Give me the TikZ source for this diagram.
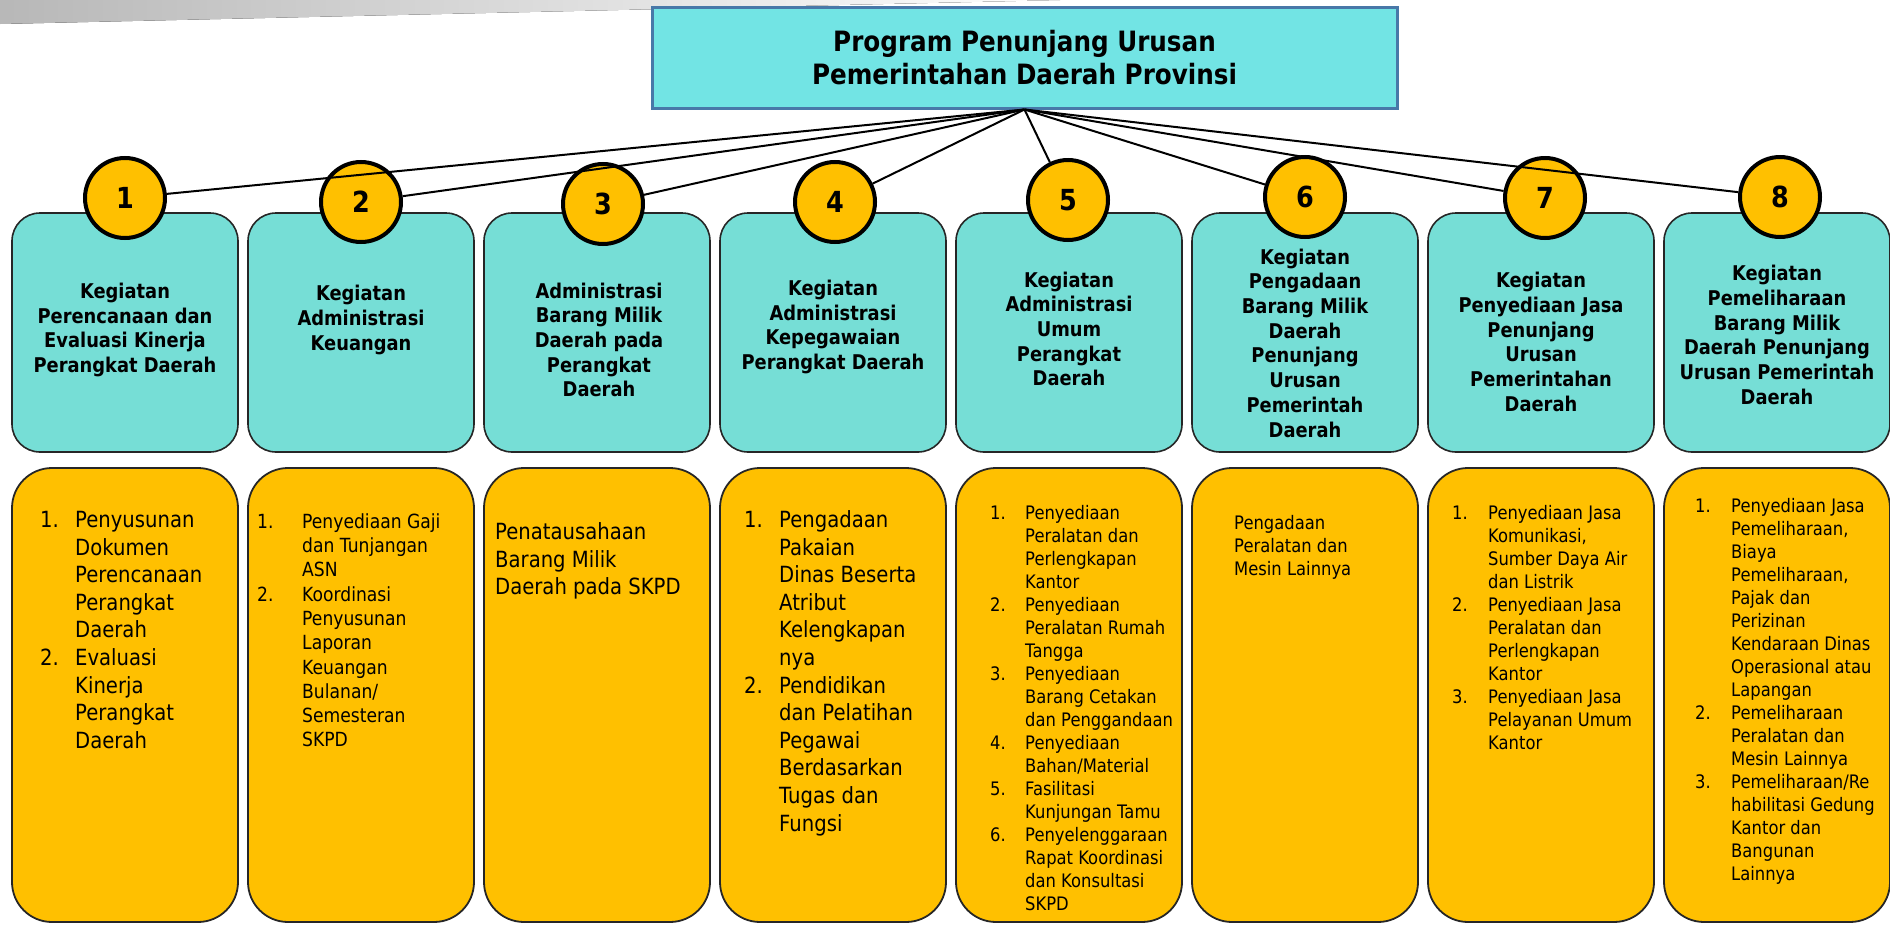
\documentclass[tikz,border=0pt]{standalone}
\usepackage{fontspec}
\setmainfont{DejaVu Sans}[FakeStretch=0.88]
\definecolor{cyanbox}{RGB}{118,222,214}
\definecolor{cyantop}{RGB}{114,228,228}
\definecolor{bluerim}{RGB}{72,120,168}
\definecolor{gold}{RGB}{255,192,0}
\newcommand{\bigtxt}{\fontsize{22.3}{27.6}\selectfont}
\newcommand{\midtxt}{\fontsize{19.5}{24.3}\selectfont}
\newcommand{\smtxt}{\fontsize{18.6}{23}\selectfont}
\newcommand{\headtxt}{\bfseries\fontsize{20.3}{24.7}\selectfont}

\begin{document}
\begin{tikzpicture}[x=1pt,y=-1pt]
\tikzstyle{every node}+=[inner sep=0pt]
\tikzstyle{titlebox}=[draw=bluerim, line width=3pt, fill=cyantop, minimum width=745pt, minimum height=101pt, align=center, font=\bfseries\fontsize{28}{33}\selectfont]
\tikzstyle{headbox}=[draw=black!85, line width=1.6pt, fill=cyanbox, rounded corners=28pt, minimum width=226pt, minimum height=239pt]
\tikzstyle{itembox}=[draw=black!85, line width=1.8pt, fill=gold, rounded corners=40pt, minimum width=226pt, minimum height=454pt]
\tikzstyle{numdot}=[circle, draw=black, line width=4pt, fill=gold, minimum size=80pt, font=\bfseries\fontsize{29}{29}\selectfont]
\tikzstyle{headtext}=[align=center, font=\headtxt]
\tikzstyle{link}=[draw=black, line width=2pt]
\useasboundingbox (0,0) rectangle (1890,926);
\fill [left color=black!28, right color=white] (0,0) -- (1060,0) -- (0,24) -- cycle;

\node[titlebox] (top) at (1024.5,57.5) {Program Penunjang Urusan\\Pemerintahan Daerah Provinsi};

\node[headbox] (h1) at (125,332.5) {};
\node[headbox] (h2) at (361,332.5) {};
\node[headbox] (h3) at (597,332.5) {};
\node[headbox] (h4) at (833,332.5) {};
\node[headbox] (h5) at (1069,332.5) {};
\node[headbox] (h6) at (1305,332.5) {};
\node[headbox] (h7) at (1541,332.5) {};
\node[headbox] (h8) at (1777,332.5) {};

\node[headtext] (t1) at (125,330) {Kegiatan\\Perencanaan dan\\Evaluasi Kinerja\\Perangkat Daerah};
\node[headtext] (t2) at (361,320) {Kegiatan\\Administrasi\\Keuangan};
\node[headtext] (t3) at (599,340) {Administrasi\\Barang Milik\\Daerah pada\\Perangkat\\Daerah};
\node[headtext] (t4) at (833,327) {Kegiatan\\Administrasi\\Kepegawaian\\Perangkat Daerah};
\node[headtext] (t5) at (1069,329) {Kegiatan\\Administrasi\\Umum\\Perangkat\\Daerah};
\node[headtext] (t6) at (1305,343) {Kegiatan\\Pengadaan\\Barang Milik\\Daerah\\Penunjang\\Urusan\\Pemerintah\\Daerah};
\node[headtext] (t7) at (1541,342) {Kegiatan\\Penyediaan Jasa\\Penunjang\\Urusan\\Pemerintahan\\Daerah};
\node[headtext] (t8) at (1777,335) {Kegiatan\\Pemeliharaan\\Barang Milik\\Daerah Penunjang\\Urusan Pemerintah\\Daerah};

\node[numdot] (c1) at (125,198) {1};
\node[numdot] (c2) at (361,202) {2};
\node[numdot] (c3) at (603,204) {3};
\node[numdot] (c4) at (835,202) {4};
\node[numdot] (c5) at (1068,200) {5};
\node[numdot] (c6) at (1305,197) {6};
\node[numdot] (c7) at (1545,198) {7};
\node[numdot] (c8) at (1780,197) {8};

\draw[link] (top.south) -- (c1);
\draw[link] (top.south) -- (c2);
\draw[link] (top.south) -- (c3);
\draw[link] (top.south) -- (c4);
\draw[link] (top.south) -- (c5);
\draw[link] (top.south) -- (c6);
\draw[link] (top.south) -- (c7);
\draw[link] (top.south) -- (c8);

\node[itembox] (y1) at (125,695) {};
\node[itembox] (y2) at (361,695) {};
\node[itembox] (y3) at (597,695) {};
\node[itembox] (y4) at (833,695) {};
\node[itembox] (y5) at (1069,695) {};
\node[itembox] (y6) at (1305,695) {};
\node[itembox] (y7) at (1541,695) {};
\node[itembox] (y8) at (1777,695) {};

\node[anchor=north west, font=\bigtxt] (l1) at (40,508) {\begin{tabular}{@{}p{35pt}@{}l@{}}
1. & Penyusunan\\ & Dokumen\\ & Perencanaan\\ & Perangkat\\ & Daerah\\
2. & Evaluasi\\ & Kinerja\\ & Perangkat\\ & Daerah
\end{tabular}};
\node[anchor=north west, font=\midtxt] (l2) at (257,511) {\begin{tabular}{@{}p{45pt}@{}l@{}}
1. & Penyediaan Gaji\\ & dan Tunjangan\\ & ASN\\
2. & Koordinasi\\ & Penyusunan\\ & Laporan\\ & Keuangan\\ & Bulanan/\\ & Semesteran\\ & SKPD
\end{tabular}};
\node[anchor=north west, font=\bigtxt] (l3) at (495,520) {\begin{tabular}{@{}l@{}}
Penatausahaan\\ Barang Milik\\ Daerah pada SKPD
\end{tabular}};
\node[anchor=north west, font=\bigtxt] (l4) at (744,508) {\begin{tabular}{@{}p{35pt}@{}l@{}}
1. & Pengadaan\\ & Pakaian\\ & Dinas Beserta\\ & Atribut\\ & Kelengkapan\\ & nya\\
2. & Pendidikan\\ & dan Pelatihan\\ & Pegawai\\ & Berdasarkan\\ & Tugas dan\\ & Fungsi
\end{tabular}};
\node[anchor=north west, font=\smtxt] (l5) at (990,503) {\begin{tabular}{@{}p{35pt}@{}l@{}}
1. & Penyediaan\\ & Peralatan dan\\ & Perlengkapan\\ & Kantor\\
2. & Penyediaan\\ & Peralatan Rumah\\ & Tangga\\
3. & Penyediaan\\ & Barang Cetakan\\ & dan Penggandaan\\
4. & Penyediaan\\ & Bahan/Material\\
5. & Fasilitasi\\ & Kunjungan Tamu\\
6. & Penyelenggaraan\\ & Rapat Koordinasi\\ & dan Konsultasi\\ & SKPD
\end{tabular}};
\node[anchor=north west, font=\smtxt] (l6) at (1234,513) {\begin{tabular}{@{}l@{}}
Pengadaan\\ Peralatan dan\\ Mesin Lainnya
\end{tabular}};
\node[anchor=north west, font=\smtxt] (l7) at (1452,503) {\begin{tabular}{@{}p{36pt}@{}l@{}}
1. & Penyediaan Jasa\\ & Komunikasi,\\ & Sumber Daya Air\\ & dan Listrik\\
2. & Penyediaan Jasa\\ & Peralatan dan\\ & Perlengkapan\\ & Kantor\\
3. & Penyediaan Jasa\\ & Pelayanan Umum\\ & Kantor
\end{tabular}};
\node[anchor=north west, font=\smtxt] (l8) at (1695,496) {\begin{tabular}{@{}p{36pt}@{}l@{}}
1. & Penyediaan Jasa\\ & Pemeliharaan,\\ & Biaya\\ & Pemeliharaan,\\ & Pajak dan\\ & Perizinan\\ & Kendaraan Dinas\\ & Operasional atau\\ & Lapangan\\
2. & Pemeliharaan\\ & Peralatan dan\\ & Mesin Lainnya\\
3. & Pemeliharaan/Re\\ & habilitasi Gedung\\ & Kantor dan\\ & Bangunan\\ & Lainnya
\end{tabular}};
\end{tikzpicture}
\end{document}
